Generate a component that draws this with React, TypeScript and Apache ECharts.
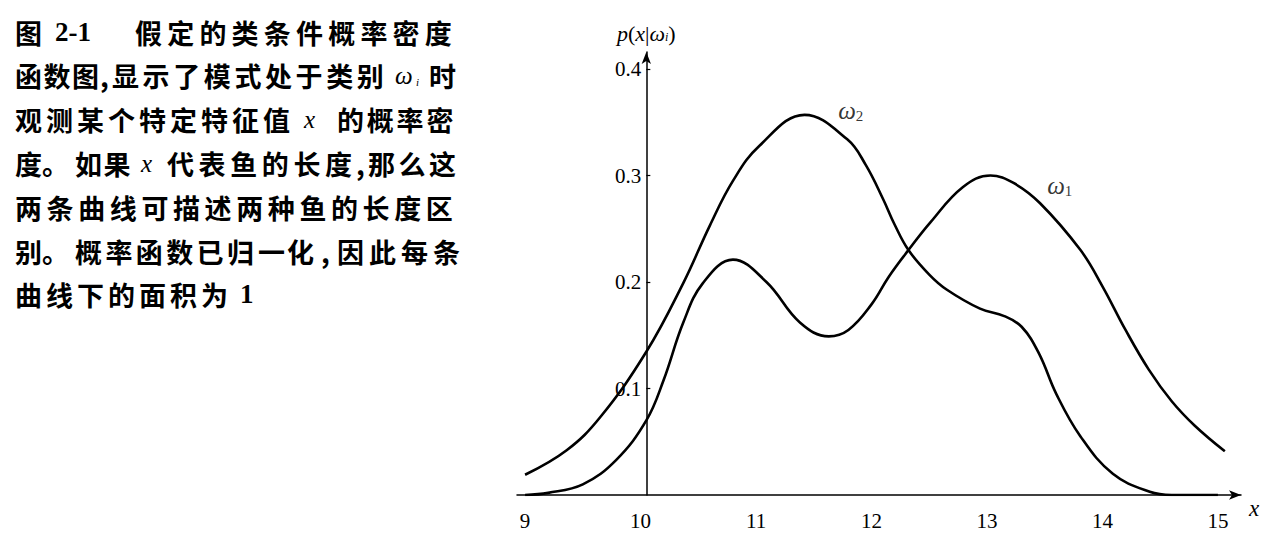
import React, { useEffect, useRef } from "react";
import * as echarts from "echarts";

// ---- data ----
const xTicks = [9, 10, 11, 12, 13, 14, 15];
const yTicks = [0.1, 0.2, 0.3, 0.4];

const omega1: [number, number][] = [
  [9.0, 0], [9.2, 0.002], [9.5, 0.01], [9.79, 0.033], [10.05, 0.07],
  [10.2, 0.108], [10.37, 0.162], [10.54, 0.199], [10.8, 0.221], [11.09, 0.2],
  [11.38, 0.162], [11.63, 0.149], [11.8, 0.155], [12.0, 0.179], [12.15, 0.205],
  [12.32, 0.23], [12.51, 0.256], [12.79, 0.289], [13.03, 0.3], [13.23, 0.293],
  [13.46, 0.274], [13.81, 0.23], [14.0, 0.196], [14.2, 0.155], [14.4, 0.118],
  [14.6, 0.088], [14.8, 0.065], [15.06, 0.041],
];

const omega2: [number, number][] = [
  [9.0, 0.019], [9.36, 0.042], [9.65, 0.073], [10.05, 0.1345], [10.37, 0.199],
  [10.6, 0.253], [10.8, 0.295], [11.03, 0.328], [11.42, 0.357], [11.79, 0.334],
  [11.95, 0.31], [12.1, 0.278], [12.2, 0.254], [12.32, 0.23], [12.5, 0.207],
  [12.65, 0.193], [12.94, 0.175], [13.15, 0.168], [13.3, 0.158], [13.45, 0.133],
  [13.6, 0.095], [13.81, 0.055], [14.09, 0.02], [14.41, 0.003], [14.6, 0],
  [15.0, 0],
];

const curveLabels = ["ω2", "ω1"];
const curveLabelAnchors: [number, number][] = [
  [11.82, 0.3615],
  [13.63, 0.291],
];

// caption (layout of the text block on the left)
type Seg = { t: string; x: number; pitch?: number; kind?: "cjk" | "serif" | "italic" | "sub" };
const captionLineY = [32, 75, 119, 163, 207, 251, 294];
const captionLines: Seg[][] = [
  [
    { t: "图", x: 15 },
    { t: "2-1", x: 55, kind: "serif" },
    { t: "假定的类条件概率密度", x: 135, pitch: 32.2 },
  ],
  [
    { t: "函数图", x: 15, pitch: 28.5 },
    { t: ",", x: 100 },
    { t: "显示了模式处于类别", x: 112, pitch: 30.6 },
    { t: "ω", x: 395, kind: "italic" },
    { t: "i", x: 416, kind: "sub" },
    { t: "时", x: 429 },
  ],
  [
    { t: "观测某个特定特征值", x: 15, pitch: 31 },
    { t: "x", x: 304, kind: "italic" },
    { t: "的概率密", x: 337, pitch: 29.8 },
  ],
  [
    { t: "度", x: 15 },
    { t: "。", x: 42 },
    { t: "如果", x: 75, pitch: 28.5 },
    { t: "x", x: 141, kind: "italic" },
    { t: "代表鱼的长度", x: 167, pitch: 31.6 },
    { t: ",", x: 356 },
    { t: "那么这", x: 368, pitch: 30.5 },
  ],
  [{ t: "两条曲线可描述两种鱼的长度区", x: 15, pitch: 31.6 }],
  [
    { t: "别", x: 15 },
    { t: "。", x: 42 },
    { t: "概率函数已归", x: 75, pitch: 30.4 },
    { t: "一", x: 258 },
    { t: "化", x: 287 },
    { t: ",", x: 321 },
    { t: "因此每条", x: 337, pitch: 32 },
  ],
  [
    { t: "曲线下的面积为", x: 15, pitch: 31 },
    { t: "1", x: 240, kind: "serif" },
  ],
];

const SERIF = "'Liberation Serif', 'DejaVu Serif', serif";
const CJK = "'Noto Sans CJK SC', sans-serif";

const X_MIN = 8.93;
const X_MAX = 15.2;
const Y_MAX = 0.416;
const Y_AXIS_AT = 10.05;
const GRID = { left: 517, top: 52, width: 724, height: 443 };

function buildCaption() {
  const els: any[] = [];
  captionLines.forEach((line, li) => {
    const y = captionLineY[li];
    line.forEach((seg) => {
      const kind = seg.kind || "cjk";
      if (kind === "cjk") {
        const chars = Array.from(seg.t);
        chars.forEach((ch, ci) => {
          els.push({
            type: "text",
            x: seg.x + ci * (seg.pitch || 0),
            y,
            style: {
              text: ch,
              fill: "#000",
              fontFamily: CJK,
              fontWeight: "bold",
              fontSize: 27,
              align: "left",
              verticalAlign: "middle",
            },
          });
        });
      } else {
        els.push({
          type: "text",
          x: seg.x,
          y: kind === "sub" ? y + 7 : y,
          style: {
            text: seg.t,
            fill: "#000",
            fontFamily: SERIF,
            fontWeight: kind === "serif" ? "bold" : "normal",
            fontStyle: kind === "italic" || kind === "sub" ? "italic" : "normal",
            fontSize: kind === "sub" ? 11 : kind === "italic" ? 25 : 27,
            align: "left",
            verticalAlign: "middle",
          },
        });
      }
    });
  });
  return els;
}

export default function App() {
  const ref = useRef<HTMLDivElement>(null);

  useEffect(() => {
    if (!ref.current) return;
    const chart = echarts.init(ref.current, null, { renderer: "svg" });
    const yOffset = -((Y_AXIS_AT - X_MIN) / (X_MAX - X_MIN)) * GRID.width;

    chart.setOption({
      animation: false,
      backgroundColor: "#fff",
      grid: { ...GRID, containLabel: false, outerBoundsMode: "none" },
      xAxis: {
        type: "value",
        min: X_MIN,
        max: X_MAX,
        splitLine: { show: false },
        axisLine: {
          onZero: false,
          lineStyle: { color: "#000", width: 1.5 },
          symbol: ["none", "arrow"],
          symbolSize: [7, 12],
        },
        axisTick: { show: false },
        axisLabel: {
          customValues: xTicks,
          formatter: (v: number) => String(Math.round(v)),
          margin: 15,
          color: "#000",
          fontSize: 21,
          fontFamily: SERIF,
        },
        name: "x",
        nameLocation: "end",
        nameGap: 8,
        nameTextStyle: {
          color: "#000",
          fontStyle: "italic",
          fontFamily: SERIF,
          fontSize: 23,
          verticalAlign: "top",
          padding: [2, 0, 0, 0],
        },
      },
      yAxis: {
        type: "value",
        min: 0,
        max: Y_MAX,
        position: "left",
        offset: yOffset,
        splitLine: { show: false },
        axisLine: {
          show: true,
          onZero: false,
          lineStyle: { color: "#000", width: 1.5 },
          symbol: ["none", "arrow"],
          symbolSize: [7, 12],
        },
        axisTick: {
          show: true,
          inside: true,
          length: 4,
          customValues: yTicks,
          lineStyle: { color: "#000", width: 1.2 },
        },
        axisLabel: {
          customValues: yTicks,
          formatter: (v: number) => v.toFixed(1),
          margin: 5,
          color: "#000",
          fontSize: 21,
          fontFamily: SERIF,
        },
        name: "{i|p}({i|x}|{i|ω}{s|i})",
        nameLocation: "end",
        nameGap: 8,
        nameTextStyle: {
          color: "#000",
          fontFamily: SERIF,
          fontSize: 22,
          rich: {
            i: { fontStyle: "italic", fontFamily: SERIF, fontSize: 22, color: "#000" },
            s: { fontStyle: "italic", fontFamily: SERIF, fontSize: 12, color: "#000", padding: [8, 0, 0, 0] },
          },
        },
      },
      series: [
        {
          name: "ω1",
          type: "line",
          data: omega1,
          smooth: 0.4,
          symbol: "none",
          lineStyle: { color: "#000", width: 2.6 },
          silent: true,
        },
        {
          name: "ω2",
          type: "line",
          data: omega2,
          smooth: 0.4,
          symbol: "none",
          lineStyle: { color: "#000", width: 2.6 },
          silent: true,
        },
        {
          type: "scatter",
          data: curveLabelAnchors,
          symbolSize: 0,
          silent: true,
          label: {
            show: true,
            position: "inside",
            fontSize: 24,
            formatter: (p: any) => {
              const s = curveLabels[p.dataIndex];
              return `{w|${s.slice(0, 1)}}{s|${s.slice(1)}}`;
            },
            rich: {
              w: { fontFamily: SERIF, fontStyle: "italic", fontSize: 25, color: "#000" },
              s: { fontFamily: SERIF, fontSize: 15, color: "#000", padding: [11, 0, 0, 0] },
            },
          },
        },
      ],
      graphic: buildCaption(),
    });

    return () => chart.dispose();
  }, []);

  return (
    <div
      ref={ref}
      style={{ position: "absolute", left: 0, top: 0, width: 1277, height: 537, background: "#fff" }}
    />
  );
}
